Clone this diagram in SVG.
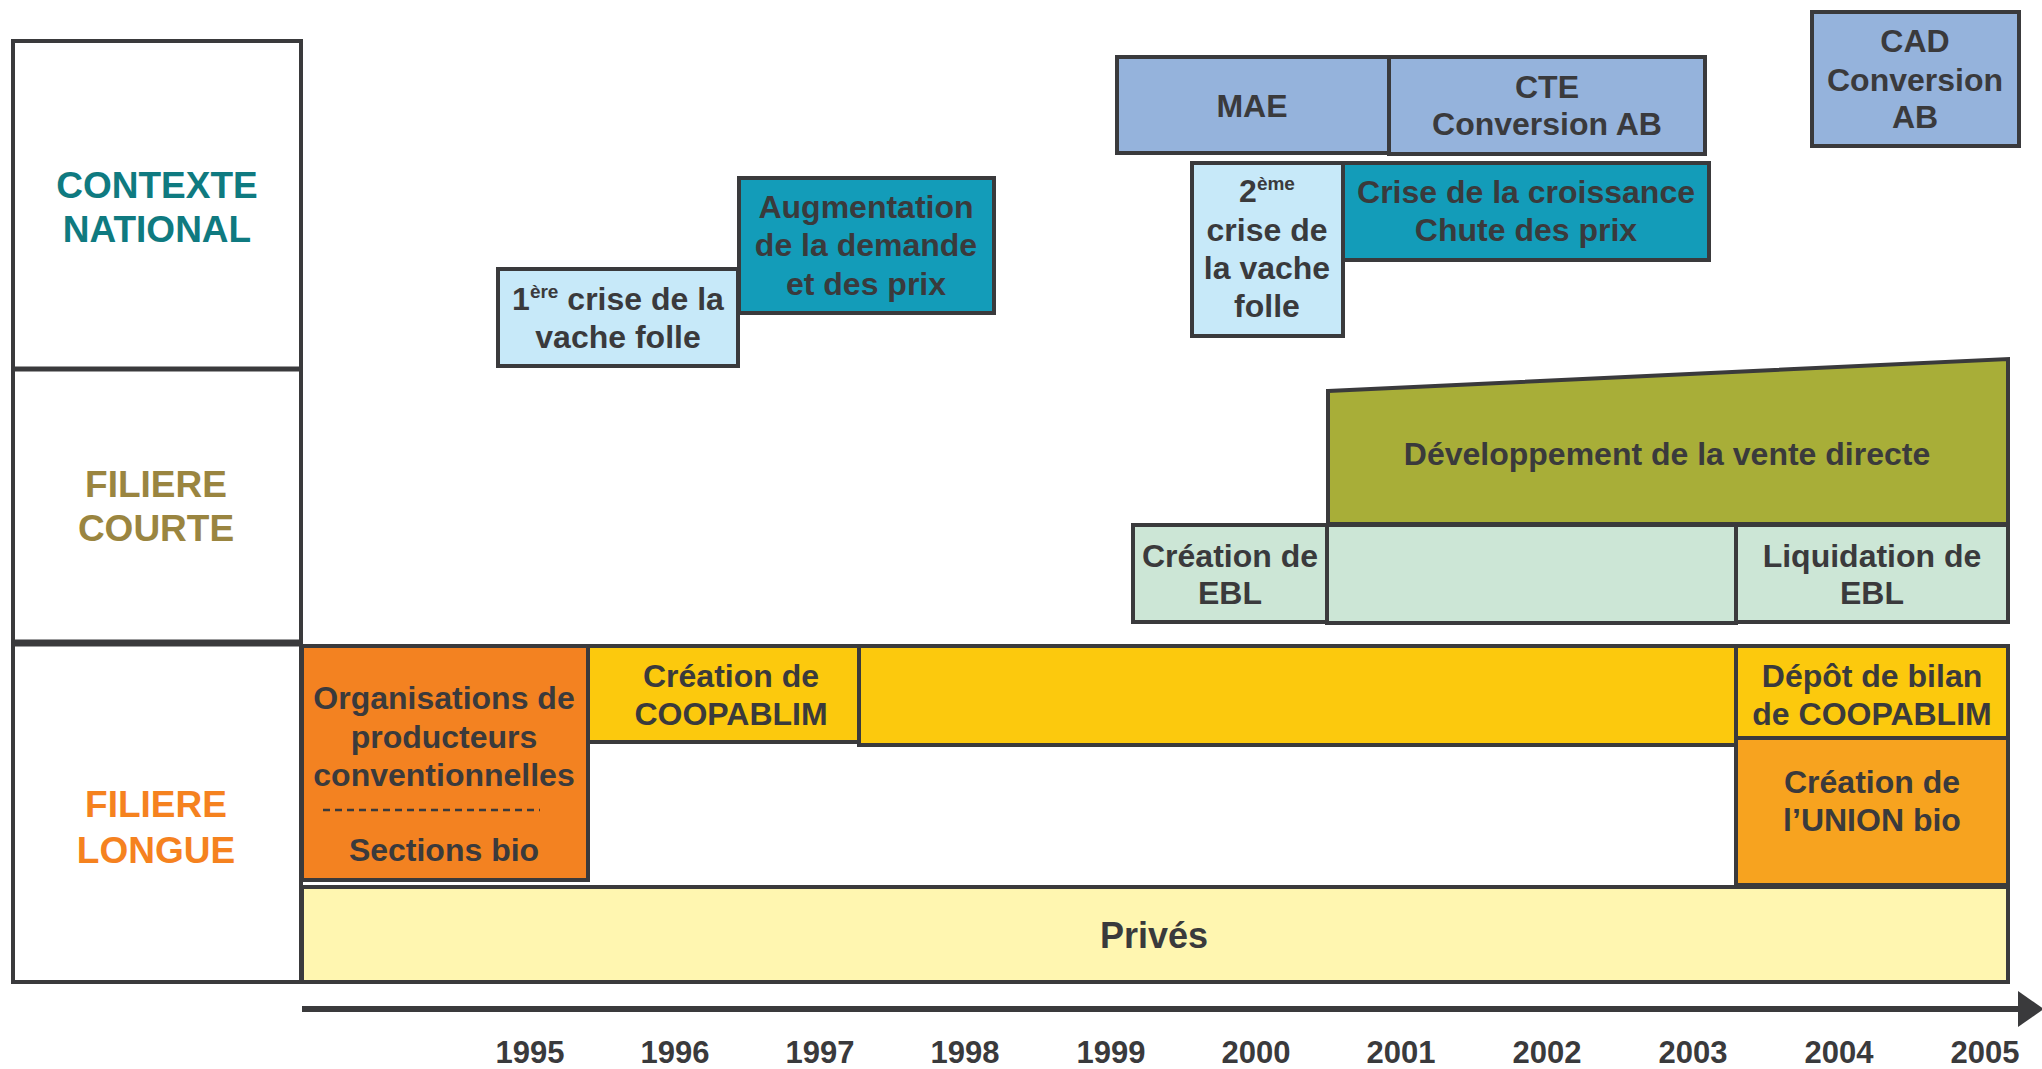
<svg xmlns="http://www.w3.org/2000/svg" width="2042" height="1069" viewBox="0 0 2042 1069">
<style>
.b{stroke:#3a3a3c;stroke-width:4}
.t{font-family:"Liberation Sans",Arial,sans-serif;font-weight:bold;font-size:32px;fill:#3a3a3c;text-anchor:middle}
.y{font-family:"Liberation Sans",Arial,sans-serif;font-weight:bold;font-size:31px;fill:#3a3a3c;text-anchor:middle}
.h{font-family:"Liberation Sans",Arial,sans-serif;font-weight:bold;font-size:37px;text-anchor:middle}
.sup{font-size:19px}
</style>
<defs>
<marker id="arr" markerWidth="6" markerHeight="6" refX="0" refY="3" orient="auto" markerUnits="strokeWidth">
<path d="M0,0 L4,2.8 L4,3.2 L0,6 Z" fill="#3a3a3c"/>
</marker>
</defs>
<rect width="2042" height="1069" fill="#ffffff"/>
<g id="rows">
<rect x="13" y="41" width="288" height="941" fill="#ffffff" class="b"/>
<line x1="13" y1="369" x2="301" y2="369" stroke="#3a3a3c" stroke-width="5"/>
<line x1="13" y1="643" x2="301" y2="643" stroke="#3a3a3c" stroke-width="7"/>
<text class="h" fill="#0f7a80" x="157" y="198">CONTEXTE</text>
<text class="h" fill="#0f7a80" x="157" y="242">NATIONAL</text>
<text class="h" fill="#9a8540" x="156" y="497">FILIERE</text>
<text class="h" fill="#9a8540" x="156" y="541">COURTE</text>
<text class="h" fill="#f5821f" x="156" y="817">FILIERE</text>
<text class="h" fill="#f5821f" x="156" y="863">LONGUE</text>
</g>
<g id="vache1">
<rect x="498" y="269" width="240" height="97" fill="#c7e9f9" class="b"/>
<text class="t" x="618" y="310">1<tspan class="sup" dy="-12">ère</tspan><tspan dy="12"> crise de la</tspan></text>
<text class="t" x="618" y="348">vache folle</text>
</g>
<g id="augmentation">
<rect x="739" y="178" width="255" height="135" fill="#139cb9" class="b"/>
<text class="t" x="866" y="218">Augmentation</text>
<text class="t" x="866" y="256">de la demande</text>
<text class="t" x="866" y="295">et des prix</text>
</g>
<g id="mae">
<rect x="1117" y="57" width="272" height="96" fill="#95b3dc" class="b"/>
<text class="t" x="1252" y="117">MAE</text>
</g>
<g id="cte">
<rect x="1389" y="57" width="316" height="97" fill="#95b3dc" class="b"/>
<text class="t" x="1547" y="98">CTE</text>
<text class="t" x="1547" y="135">Conversion AB</text>
</g>
<g id="cad">
<rect x="1812" y="12" width="207" height="134" fill="#95b3dc" class="b"/>
<text class="t" x="1915" y="52">CAD</text>
<text class="t" x="1915" y="91">Conversion</text>
<text class="t" x="1915" y="128">AB</text>
</g>
<g id="vache2">
<rect x="1192" y="163" width="151" height="173" fill="#c7e9f9" class="b"/>
<text class="t" x="1267" y="202">2<tspan class="sup" dy="-12">ème</tspan></text>
<text class="t" x="1267" y="241">crise de</text>
<text class="t" x="1267" y="279">la vache</text>
<text class="t" x="1267" y="317">folle</text>
</g>
<g id="crise">
<rect x="1343" y="163" width="366" height="97" fill="#139cb9" class="b"/>
<text class="t" x="1526" y="203">Crise de la croissance</text>
<text class="t" x="1526" y="241">Chute des prix</text>
</g>
<g id="vente-directe">
<polygon points="1328,391 2008,359 2008,524 1328,524" fill="#a8ae38" class="b"/>
<text class="t" x="1667" y="465">Développement de la vente directe</text>
</g>
<g id="ebl-creation">
<rect x="1133" y="525" width="194" height="97" fill="#cce6d6" class="b"/>
<text class="t" x="1230" y="567">Création de</text>
<text class="t" x="1230" y="604">EBL</text>
</g>
<g id="ebl-periode">
<rect x="1327" y="525" width="409" height="98" fill="#cce6d6" class="b"/>
</g>
<g id="ebl-liquidation">
<rect x="1736" y="525" width="272" height="97" fill="#cce6d6" class="b"/>
<text class="t" x="1872" y="567">Liquidation de</text>
<text class="t" x="1872" y="604">EBL</text>
</g>
<g id="prives">
<rect x="302" y="887" width="1706" height="95" fill="#fff6b0" class="b"/>
<text class="t" x="1154" y="948" style="font-size:36px">Privés</text>
</g>
<g id="organisations">
<rect x="302" y="646" width="286" height="234" fill="#f38221" class="b"/>
<text class="t" x="444" y="709">Organisations de</text>
<text class="t" x="444" y="748">producteurs</text>
<text class="t" x="444" y="786">conventionnelles</text>
<line x1="323" y1="810" x2="540" y2="810" stroke="#3a3a3c" stroke-width="2.5" stroke-dasharray="7 5"/>
<text class="t" x="444" y="861">Sections bio</text>
</g>
<g id="coopablim-creation">
<rect x="588" y="646" width="271" height="96" fill="#fcc90d" class="b"/>
<text class="t" x="731" y="687">Création de</text>
<text class="t" x="731" y="725">COOPABLIM</text>
</g>
<g id="coopablim-periode">
<rect x="859" y="646" width="877" height="99" fill="#fcc90d" class="b"/>
</g>
<g id="coopablim-depot">
<rect x="1736" y="646" width="272" height="92" fill="#fcc90d" class="b"/>
<text class="t" x="1872" y="687">Dépôt de bilan</text>
<text class="t" x="1872" y="725">de COOPABLIM</text>
</g>
<g id="union-bio">
<rect x="1736" y="738" width="272" height="147" fill="#f7a31f" class="b"/>
<text class="t" x="1872" y="793">Création de</text>
<text class="t" x="1872" y="831">l’UNION bio</text>
</g>
<g id="connectors">
<line x1="302" y1="1009" x2="2018" y2="1009" stroke="#3a3a3c" stroke-width="6" marker-end="url(#arr)"/>
</g>
<g id="years">
<text class="y" x="530" y="1063">1995</text>
<text class="y" x="675" y="1063">1996</text>
<text class="y" x="820" y="1063">1997</text>
<text class="y" x="965" y="1063">1998</text>
<text class="y" x="1111" y="1063">1999</text>
<text class="y" x="1256" y="1063">2000</text>
<text class="y" x="1401" y="1063">2001</text>
<text class="y" x="1547" y="1063">2002</text>
<text class="y" x="1693" y="1063">2003</text>
<text class="y" x="1839" y="1063">2004</text>
<text class="y" x="1985" y="1063">2005</text>
</g>
</svg>
